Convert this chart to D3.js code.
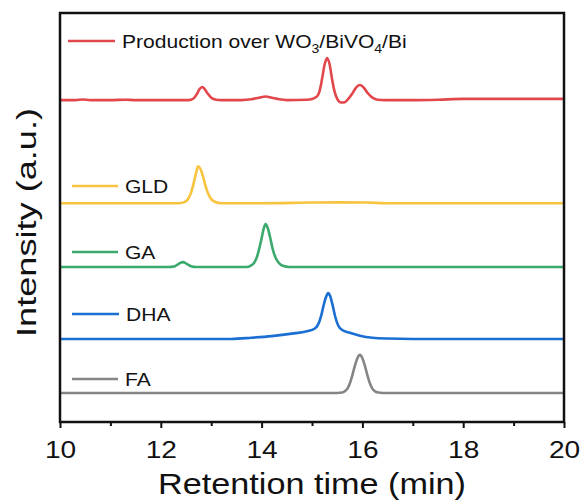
<!DOCTYPE html>
<html><head><meta charset="utf-8">
<script src="https://cdn.jsdelivr.net/npm/d3@7"></script>
<style>body{margin:0;background:#fff}svg{display:block}text{font-family:"Liberation Sans",Arial,sans-serif;fill:#111}</style>
</head><body><div id="chart"></div>
<script>
// ---- data (retention time in min, intensity in a.u. above each trace's baseline) ----
const seriesNames = ["Production over WO3/BiVO4/Bi", "GLD", "GA", "DHA", "FA"];
const seriesColors = ["#e2474c", "#f8c33e", "#3caa6c", "#1b6fd3", "#858585"];
const seriesOffsets = [78.7, 53.5, 37.9, 20.3, 7.1];
const production = [[10.0,0],[10.3,0],[10.45,0.15],[10.6,0],[11.0,0],[11.3,0.1],[11.5,0],[12.0,0],[12.55,0],[12.65,0.4],[12.72,1.6],[12.77,2.7],[12.82,3.2],[12.87,2.7],[12.93,1.6],[13.0,0.6],[13.1,0.1],[13.2,0],[13.6,0],[13.8,0.2],[13.95,0.6],[14.08,0.9],[14.2,0.6],[14.35,0.2],[14.5,0],[14.9,0.1],[15.0,0.3],[15.1,0.9],[15.15,2.2],[15.2,5.2],[15.25,8.7],[15.3,10.3],[15.35,8.7],[15.4,5.0],[15.45,2.0],[15.5,0.3],[15.58,-0.6],[15.65,-0.5],[15.72,0.3],[15.8,1.6],[15.87,3.0],[15.95,3.7],[16.03,3.0],[16.1,1.8],[16.2,0.6],[16.3,0.1],[16.45,0],[17.0,0],[17.5,0.1],[18.0,0.3],[19.0,0.3],[20.0,0.3]];
const gld = [[10,0],[12.0,0],[12.35,0],[12.45,0.2],[12.5,0.5],[12.55,1.2],[12.6,2.6],[12.65,4.8],[12.7,7.4],[12.74,9.0],[12.79,8.3],[12.84,6.4],[12.89,4.1],[12.94,2.3],[13.0,1.0],[13.08,0.3],[13.2,0],[14.0,0],[15.0,0.15],[15.5,0.2],[16.1,0.15],[16.5,0],[20,0]];
const ga = [[10,0],[12.15,0],[12.28,0.2],[12.36,0.8],[12.44,1.2],[12.52,0.7],[12.6,0.2],[12.7,0],[13.7,0],[13.78,0.3],[13.85,1.0],[13.9,2.2],[13.95,4.3],[14.0,7.0],[14.04,9.3],[14.08,10.5],[14.12,9.6],[14.17,7.2],[14.22,4.4],[14.28,2.2],[14.35,0.9],[14.42,0.3],[14.55,0],[20,0]];
const dha = [[10,0],[13.0,0],[13.4,0],[13.8,0.3],[14.2,0.7],[14.6,1.3],[14.9,1.9],[15.05,2.5],[15.12,3.5],[15.18,5.6],[15.23,8.2],[15.28,10.3],[15.32,11.2],[15.36,10.5],[15.41,8.2],[15.46,5.5],[15.52,3.3],[15.6,2.2],[15.75,1.5],[15.95,0.8],[16.2,0.3],[16.5,0.1],[17,0],[20,0]];
const fa = [[10,0],[15.5,0],[15.6,0.1],[15.65,0.4],[15.7,1.0],[15.75,2.3],[15.8,4.3],[15.85,6.6],[15.9,8.5],[15.95,9.3],[16.0,8.5],[16.05,6.6],[16.1,4.3],[16.15,2.3],[16.2,1.0],[16.25,0.4],[16.32,0.1],[16.4,0],[20,0]];
const seriesData = [production, gld, ga, dha, fa];
const majorTicks = [10, 12, 14, 16, 18, 20];
const minorTicks = [11, 13, 15, 17, 19];
const xTitle = "Retention time (min)";
const yTitle = "Intensity (a.u.)";

// ---- layout ----
const W = 584, H = 502;
const L = 60, R = 564, T = 13, B = 422;
const svg = d3.select("#chart").append("svg").attr("width", W).attr("height", H);
const x = d3.scaleLinear().domain([10, 20]).range([L, R]);
const y = d3.scaleLinear().domain([0, 100]).range([B, T]);
const SX = 1.17;

// traces
const line = d3.line().x(d => x(d[0])).y(d => y(d[1])).curve(d3.curveMonotoneX);
seriesData.forEach((s, i) => {
  svg.append("path")
    .attr("d", line(s.map(p => [p[0], p[1] + seriesOffsets[i]])))
    .attr("fill", "none").attr("stroke", seriesColors[i])
    .attr("stroke-width", 2.6).attr("stroke-linejoin", "round");
});

// legend labels
const legendPos = [[68, 115, 41], [72, 118, 186], [72, 118, 252], [72, 119, 314], [72, 118, 379]];
seriesNames.forEach((n, i) => {
  const [x1, x2, ly] = legendPos[i];
  svg.append("line").attr("x1", x1).attr("x2", x2).attr("y1", ly).attr("y2", ly)
    .attr("stroke", seriesColors[i]).attr("stroke-width", 2.6);
  const t = svg.append("text").attr("transform", `translate(${x2 + 7},${ly + 7}) scale(${SX},1)`)
    .attr("font-size", 18);
  if (i === 0) {
    t.append("tspan").text("Production over WO");
    t.append("tspan").attr("font-size", 12).attr("dy", 5).text("3");
    t.append("tspan").attr("dy", -5).text("/BiVO");
    t.append("tspan").attr("font-size", 12).attr("dy", 5).text("4");
    t.append("tspan").attr("dy", -5).text("/Bi");
  } else {
    t.text(n);
  }
});

// axes
const gx = svg.append("g").attr("transform", `translate(0,${B})`)
  .call(d3.axisBottom(x).tickValues(majorTicks).tickSize(6).tickFormat(d3.format("d")));
gx.select(".domain").remove();
gx.selectAll(".tick line").attr("stroke", "#111").attr("stroke-width", 2);
gx.selectAll(".tick text").attr("y", 36).attr("dy", 0).attr("font-size", 24)
  .attr("transform", `scale(${SX},1)`).attr("fill", "#111")
  .attr("font-family", "Liberation Sans, Arial, sans-serif");
const gm = svg.append("g").attr("transform", `translate(0,${B})`)
  .call(d3.axisBottom(x).tickValues(minorTicks).tickSize(4).tickFormat(""));
gm.select(".domain").remove();
gm.selectAll(".tick line").attr("stroke", "#111").attr("stroke-width", 2);

// frame
svg.append("rect").attr("x", L).attr("y", T).attr("width", R - L).attr("height", B - T)
  .attr("fill", "none").attr("stroke", "#111").attr("stroke-width", 2.5);

// titles
svg.append("text").attr("x", 312).attr("y", 494).attr("text-anchor", "middle")
  .attr("font-size", 30).attr("textLength", 308).attr("lengthAdjust", "spacingAndGlyphs").text(xTitle);
svg.append("text").attr("transform", "translate(35.5,222.5) rotate(-90)").attr("text-anchor", "middle")
  .attr("font-size", 27).attr("textLength", 229).attr("lengthAdjust", "spacingAndGlyphs").text(yTitle);
</script></body></html>
